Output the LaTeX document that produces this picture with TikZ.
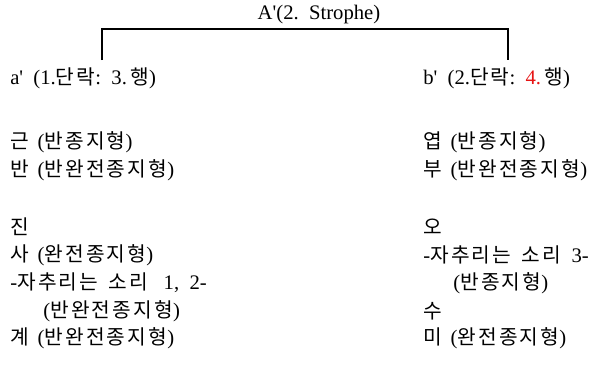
\documentclass[tikz,border=0pt]{standalone}
\usepackage{fontspec}
\setmainfont{Liberation Serif}
\newfontfamily\hangulfont{Noto Sans CJK KR}[Scale=0.98, LetterSpace=11]
\newcommand{\hg}[1]{{\hangulfont #1}}
\usepackage{xcolor}
\usepackage{tikz}
\usetikzlibrary{positioning}
\definecolor{markred}{RGB}{230,20,20}

\begin{document}
\begin{tikzpicture}[
    x=0.75pt, y=-0.75pt,
    verse/.style={anchor=west, inner sep=0pt, font=\fontsize{15.5}{18}\selectfont},
    title/.style={verse, anchor=center},
    bracket/.style={draw=black, line width=0.8pt}
]
\useasboundingbox (0,0) rectangle (602,364);

\node[title] (strophe) at (319,15) {A\textquotesingle(2.\ \ Strophe)};
\node[verse] (apart) at (10,78) {a\textquotesingle\ \ (1.\hg{단락}:\ \ 3.\,\hg{행})};
\node[verse] (bpart) at (423,78) {b\textquotesingle\ \ (2.\hg{단락}:\ \ \textcolor{markred}{4.}\,\hg{행})};

% left column
\node[verse] (geun) at (10,142) {\hg{근}\ \,(\hg{반종지형})};
\node[verse] (ban) at (10,170) {\hg{반}\ \,(\hg{반완전종지형})};
\node[verse] (jin) at (10,227) {\hg{진}};
\node[verse] (sa) at (10,255) {\hg{사}\ \,(\hg{완전종지형})};
\node[verse] (sound1) at (10,283) {-\hg{자추리는}\ \ \hg{소리}\ \ \ 1,\ \ 2-};
\node[verse] (sound1b) at (43,311) {(\hg{반완전종지형})};
\node[verse] (gye) at (10,338) {\hg{계}\ \,(\hg{반완전종지형})};

% right column
\node[verse] (yeop) at (423,142) {\hg{엽}\ \,(\hg{반종지형})};
\node[verse] (bu) at (423,170) {\hg{부}\ \,(\hg{반완전종지형})};
\node[verse] (o) at (423,227) {\hg{오}};
\node[verse] (sound3) at (423,255) {-\hg{자추리는}\ \ \hg{소리}\ \ 3-};
\node[verse] (sound3b) at (453,283) {(\hg{반종지형})};
\node[verse] (su) at (423,311) {\hg{수}};
\node[verse] (mi) at (423,338) {\hg{미}\ \,(\hg{완전종지형})};

\coordinate (aup) at (102,60);
\coordinate (bup) at (508,60);
\draw[bracket] (aup) -- ++(0,-31) -| (bup);
\end{tikzpicture}
\end{document}
